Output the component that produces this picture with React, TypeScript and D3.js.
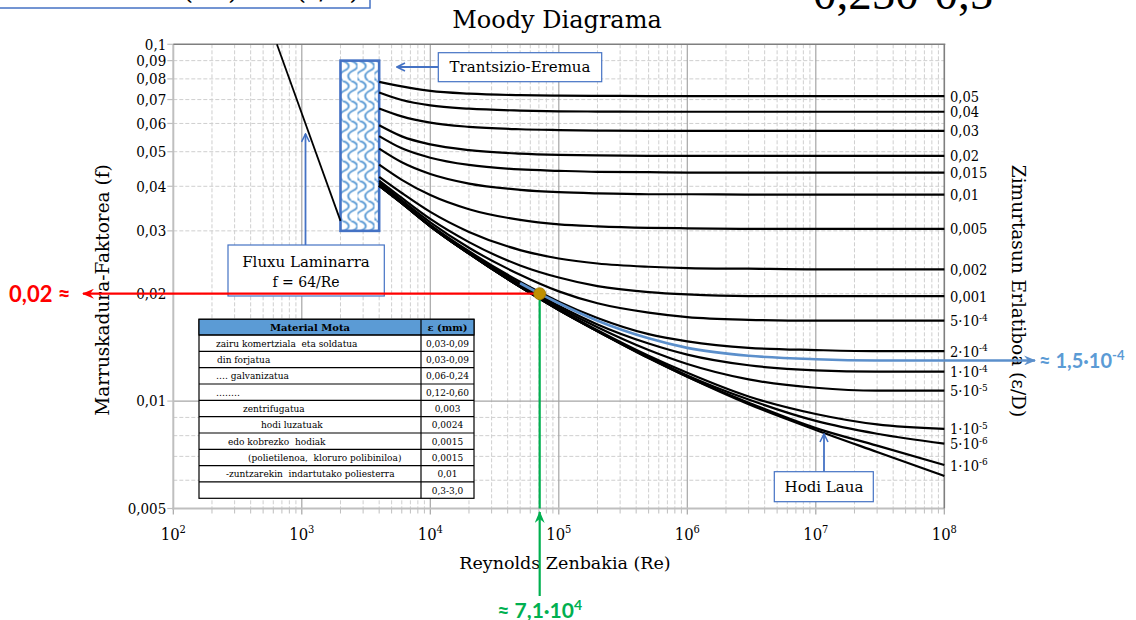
import React from 'react';
import * as d3 from 'd3';

// ---------- data ----------
const RE = [4e3, 6e3, 1e4, 2e4, 5e4, 1e5, 2e5, 5e5, 1e6, 3e6, 1e7, 3e7, 1e8];

const F_0_05 = [0.0785, 0.0762, 0.074, 0.0727, 0.072, 0.0718, 0.0717, 0.0716, 0.0716, 0.0716, 0.0716, 0.0716, 0.0716];
const F_0_04 = [0.0733, 0.0698, 0.0674, 0.066, 0.0652, 0.0649, 0.0648, 0.0647, 0.0647, 0.0647, 0.0647, 0.0647, 0.0647];
const F_0_03 = [0.0661, 0.0628, 0.0603, 0.0587, 0.0578, 0.0575, 0.0573, 0.0572, 0.0572, 0.0572, 0.0572, 0.0572, 0.0572];
const F_0_02 = [0.0593, 0.0552, 0.0524, 0.0505, 0.0494, 0.049, 0.0488, 0.0487, 0.0487, 0.0487, 0.0487, 0.0487, 0.0487];
const F_0_015 = [0.0553, 0.0511, 0.0481, 0.0459, 0.0446, 0.0442, 0.0439, 0.0438, 0.0437, 0.0437, 0.0437, 0.0437, 0.0437];
const F_0_01 = [0.051, 0.0467, 0.0433, 0.0407, 0.0391, 0.0385, 0.0382, 0.038, 0.038, 0.0379, 0.0379, 0.0379, 0.0379];
const F_0_005 = [0.046, 0.0417, 0.0378, 0.0345, 0.0322, 0.0313, 0.0309, 0.0306, 0.0305, 0.0304, 0.0304, 0.0304, 0.0304];
const F_0_002 = [0.0425, 0.0383, 0.0339, 0.0298, 0.0265, 0.0251, 0.0243, 0.0238, 0.0236, 0.0235, 0.0234, 0.0234, 0.0234];
const F_0_001 = [0.0415, 0.0371, 0.0324, 0.0279, 0.024, 0.0222, 0.021, 0.0202, 0.0199, 0.0197, 0.0197, 0.0197, 0.0197];
const F_5e_4 = [0.041, 0.0365, 0.0317, 0.0269, 0.0226, 0.0203, 0.0188, 0.0177, 0.0172, 0.0169, 0.0168, 0.0168, 0.0168];
const F_2e_4 = [0.0405, 0.0361, 0.0312, 0.0263, 0.0216, 0.019, 0.0171, 0.0154, 0.0147, 0.0141, 0.0139, 0.0138, 0.0138];
const F_1e_4 = [0.0402, 0.036, 0.031, 0.0261, 0.0213, 0.0185, 0.0164, 0.0145, 0.0135, 0.0126, 0.0122, 0.0121, 0.0121];
const F_5e_5 = [0.0402, 0.0359, 0.031, 0.026, 0.0211, 0.0183, 0.0161, 0.0139, 0.0127, 0.0115, 0.0109, 0.0107, 0.0107];
const F_1e_5 = [0.0402, 0.0359, 0.0309, 0.0259, 0.0209, 0.0181, 0.0158, 0.0134, 0.012, 0.0103, 0.0092, 0.0086, 0.00836];
const F_5e_6 = [0.0402, 0.0359, 0.0309, 0.0259, 0.0209, 0.018, 0.0157, 0.0133, 0.0118, 0.0101, 0.0088, 0.0081, 0.0076];
const F_1e_6 = [0.0402, 0.0359, 0.0309, 0.0259, 0.0209, 0.018, 0.0157, 0.0132, 0.0117, 0.0099, 0.0084, 0.0075, 0.00662];
const F_SMOOTH = [0.0401, 0.0358, 0.0309, 0.0259, 0.0209, 0.018, 0.0157, 0.0132, 0.0117, 0.0098, 0.0083, 0.0072, 0.00617];

const CURVE_VALUES = [F_0_05, F_0_04, F_0_03, F_0_02, F_0_015, F_0_01, F_0_005, F_0_002, F_0_001, F_5e_4, F_2e_4, F_1e_4, F_5e_5, F_1e_5, F_5e_6, F_1e_6, F_SMOOTH];
// right-side labels: [base, exponent]
const CURVE_LABELS: [string, string][] = [
  ['0,05', ''], ['0,04', ''], ['0,03', ''], ['0,02', ''], ['0,015', ''], ['0,01', ''], ['0,005', ''],
  ['0,002', ''], ['0,001', ''], ['5·10', '-4'], ['2·10', '-4'], ['1·10', '-4'], ['5·10', '-5'],
  ['1·10', '-5'], ['5·10', '-6'], ['1·10', '-6'], ['', ''],
];

// highlighted curve ε/D ≈ 1,5·10^-4
const RE_BLUE = [5e4, 7.1e4, 1e5, 2e5, 5e5, 1e6, 3e6, 1e7, 3e7, 1e8];
const F_BLUE = [0.0214, 0.02, 0.0188, 0.0168, 0.015, 0.0141, 0.0134, 0.0131, 0.013, 0.013];

// laminar f = 64/Re
const RE_LAM = [640, 2000];
const F_LAM = [0.1, 0.032];

// transition zone
const TRANS_RE = [2000, 4000];
const TRANS_F = [0.03, 0.09];

// operating point
const POINT_RE = 7.1e4;
const POINT_F = 0.02;

const Y_TICKS = [0.1, 0.09, 0.08, 0.07, 0.06, 0.05, 0.04, 0.03, 0.02, 0.01, 0.005];
const Y_TICK_LABELS = ['0,1', '0,09', '0,08', '0,07', '0,06', '0,05', '0,04', '0,03', '0,02', '0,01', '0,005'];
const Y_MINOR = [0.006, 0.007, 0.008, 0.009, 0.02, 0.03, 0.04, 0.05, 0.06, 0.07, 0.08, 0.09];
const X_EXPONENTS = [2, 3, 4, 5, 6, 7, 8];

const TABLE_MATERIALS = [
  'zairu komertziala  eta soldatua',
  'din forjatua',
  '‥‥ galvanizatua',
  '‥‥‥‥',
  'zentrifugatua',
  'hodi luzatuak',
  'edo kobrezko  hodiak',
  '(polietilenoa,  kloruro polibiniloa)',
  '-zuntzarekin  indartutako poliesterra',
  '',
];
const TABLE_EPS = ['0,03-0,09', '0,03-0,09', '0,06-0,24', '0,12-0,60', '0,003', '0,0024', '0,0015', '0,0015', '0,01', '0,3-3,0'];
const TABLE_TEXT_X = [216, 217, 216, 216, 243, 261, 228, 248, 226, 216];

// ---------- layout ----------
const W = 1136;
const H = 620;
const X0 = 173.3, X1 = 944.3, Y0 = 508.5, Y1 = 44.3;

const x = d3.scaleLog().domain([1e2, 1e8]).range([X0, X1]);
const y = d3.scaleLog().domain([0.005, 0.1]).range([Y0, Y1]);

const SERIF = 'DejaVu Serif';
const NUMF = "'DejaVu Serif Condensed', 'DejaVu Serif'";
const SANS = 'Lato';
const BLUE_BOX = '#4472C4';
const BLUE_CURVE = '#5B8FCB';

export default function App() {
  const line = d3
    .line<[number, number]>()
    .x((d) => x(d[0]))
    .y((d) => y(d[1]))
    .curve(d3.curveMonotoneX);

  const xMinor: number[] = [];
  for (let e = 2; e < 8; e++) for (let k = 2; k <= 9; k++) xMinor.push(k * Math.pow(10, e));
  const xMajor = X_EXPONENTS.map((e) => Math.pow(10, e));

  const px = x(POINT_RE);
  const py = y(POINT_F);

  const tx0 = x(TRANS_RE[0]), tx1 = x(TRANS_RE[1]);
  const ty0 = y(TRANS_F[1]), ty1 = y(TRANS_F[0]);

  const tblL = 199, tblR = 474, tblSplit = 421, tblTop = 319.3, tblHead = 335, rowH = 16.33;

  const blueEndY = y(F_BLUE[F_BLUE.length - 1]);

  return (
    <svg
      width={W}
      height={H}
      style={{ position: 'absolute', left: 0, top: 0, background: '#fff' }}
      fontFamily={SERIF}
    >
      <defs>
        <pattern id="transPat" patternUnits="userSpaceOnUse" x={tx0} y={ty0} width={17} height={20}>
          <rect width={17} height={20} fill="#fff" />
          <path
            d="M2,0 C10,3 10,7 4,10 C-2,13 -2,17 2,20 M10.5,0 C18.5,3 18.5,7 12.5,10 C6.5,13 6.5,17 10.5,20 M19,0 C27,3 27,7 21,10"
            fill="none"
            stroke="#5B9BD5"
            strokeWidth={1.9}
          />
        </pattern>
        <marker id="arRed" viewBox="0 0 12 10" refX={11} refY={5} markerUnits="userSpaceOnUse" markerWidth={13} markerHeight={10} orient="auto">
          <path d="M0,0 L12,5 L0,10 L4,5 z" fill="#FF0000" />
        </marker>
        <marker id="arGreen" viewBox="0 0 12 10" refX={11} refY={5} markerUnits="userSpaceOnUse" markerWidth={13} markerHeight={10} orient="auto">
          <path d="M0,0 L12,5 L0,10 L4,5 z" fill="#00B050" />
        </marker>
        <marker id="arBlue" viewBox="0 0 12 10" refX={11} refY={5} markerUnits="userSpaceOnUse" markerWidth={13} markerHeight={10} orient="auto">
          <path d="M0,0 L12,5 L0,10 L4,5 z" fill={BLUE_CURVE} />
        </marker>
        <marker id="arBox" viewBox="0 0 10 10" refX={9} refY={5} markerUnits="userSpaceOnUse" markerWidth={10} markerHeight={10} orient="auto">
          <path d="M1,1 L9,5 L1,9" fill="none" stroke={BLUE_BOX} strokeWidth={1.6} />
        </marker>
      </defs>

      {/* cut-off header boxes at top (partly outside the picture, as in the reference) */}
      <rect x={-5} y={-20} width={375} height={28} fill="#fff" stroke={BLUE_BOX} strokeWidth={1.5} />
      <text x={183} y={-1} fontSize={26} fill="#000">(Re)</text>
      <text x={296} y={-1} fontSize={26} fill="#000">(ε/D)</text>
      <text x={813} y={9} fontSize={47} fill="#000" fontFamily="Liberation Serif">0,250-0,5</text>

      {/* title */}
      <text x={557} y={28} fontSize={24} textAnchor="middle" fill="#000">Moody Diagrama</text>

      {/* grid */}
      {xMinor.map((v, i) => (
        <g key={'xm' + i}>
          <line x1={x(v)} x2={x(v)} y1={Y1} y2={Y0} stroke="#CFCFCF" strokeWidth={1} strokeDasharray="4,2" />
          <line x1={x(v)} x2={x(v)} y1={Y0} y2={Y0 + 5} stroke="#BFBFBF" strokeWidth={1} />
        </g>
      ))}
      {Y_MINOR.map((v, i) => (
        <line key={'ym' + i} x1={X0} x2={X1} y1={y(v)} y2={y(v)} stroke="#CFCFCF" strokeWidth={1} strokeDasharray="4,2" />
      ))}
      {xMajor.slice(1, -1).map((v, i) => (
        <line key={'xM' + i} x1={x(v)} x2={x(v)} y1={Y1} y2={Y0} stroke="#A6A6A6" strokeWidth={1.2} />
      ))}
      <line x1={X0} x2={X1} y1={y(0.01)} y2={y(0.01)} stroke="#A6A6A6" strokeWidth={1.2} />
      {xMajor.map((v, i) => (
        <line key={'xt' + i} x1={x(v)} x2={x(v)} y1={Y0} y2={Y0 + 6} stroke="#A6A6A6" strokeWidth={1.2} />
      ))}
      {Y_TICKS.map((v, i) => (
        <line key={'yt' + i} x1={X0 - 6} x2={X0} y1={y(v)} y2={y(v)} stroke="#BFBFBF" strokeWidth={1.2} />
      ))}
      {/* axes and frame */}
      <line x1={X0} x2={X0} y1={Y1} y2={Y0 + 1} stroke="#BFBFBF" strokeWidth={2} />
      <line x1={X0 - 1} x2={X1} y1={Y0} y2={Y0} stroke="#BFBFBF" strokeWidth={2} />
      <line x1={X0} x2={X1 + 1} y1={Y1} y2={Y1} stroke="#7F7F7F" strokeWidth={1.6} />
      <line x1={X1} x2={X1} y1={Y1} y2={Y0} stroke="#7F7F7F" strokeWidth={1.6} />

      {/* tick labels */}
      {Y_TICKS.map((v, i) => (
        <text key={'yl' + i} x={X0 - 7} y={y(v)} dy="0.36em" fontSize={15} textAnchor="end" fill="#000" fontFamily={NUMF}>
          {Y_TICK_LABELS[i]}
        </text>
      ))}
      {xMajor.map((v, i) => (
        <text key={'xl' + i} x={x(v)} y={540} fontSize={16.5} textAnchor="middle" fill="#000" fontFamily={NUMF}>
          10<tspan fontSize={11} dy={-7}>{X_EXPONENTS[i]}</tspan>
        </text>
      ))}

      {/* axis titles */}
      <text x={565} y={569} fontSize={17.5} textAnchor="middle" fill="#000">Reynolds Zenbakia (Re)</text>
      <text transform={`translate(109,${290}) rotate(-90)`} fontSize={18.5} textAnchor="middle" fill="#000">
        Marruskadura-Faktorea (f)
      </text>
      <text transform={`translate(1012,${291}) rotate(90)`} fontSize={18.5} textAnchor="middle" fill="#000">
        Zimurtasun Erlatiboa (ε/D)
      </text>

      {/* table */}
      <g>
        <rect x={tblL} y={tblTop} width={tblR - tblL} height={tblHead + rowH * 10 - tblTop} fill="#fff" stroke="#000" strokeWidth={1.2} />
        <rect x={tblL} y={tblTop} width={tblR - tblL} height={tblHead - tblTop} fill="#5B9BD5" stroke="#000" strokeWidth={1.2} />
        <line x1={tblSplit} x2={tblSplit} y1={tblTop} y2={tblHead + rowH * 10} stroke="#000" strokeWidth={1.2} />
        {TABLE_EPS.map((_, i) => (
          <line key={'tr' + i} x1={tblL} x2={tblR} y1={tblHead + rowH * i} y2={tblHead + rowH * i} stroke="#000" strokeWidth={1.2} />
        ))}
        <text x={(tblL + tblSplit) / 2} y={tblTop + 11.5} fontSize={10} fontWeight="bold" textAnchor="middle">Material Mota</text>
        <text x={(tblSplit + tblR) / 2} y={tblTop + 11.5} fontSize={10} fontWeight="bold" textAnchor="middle">ε (mm)</text>
        {TABLE_MATERIALS.map((t, i) => (
          <text key={'tm' + i} x={TABLE_TEXT_X[i]} y={tblHead + rowH * i + 11.8} fontSize={10} fill="#000" xmlSpace="preserve" fontFamily={NUMF}>
            {t}
          </text>
        ))}
        {TABLE_EPS.map((t, i) => (
          <text key={'te' + i} x={(tblSplit + tblR) / 2} y={tblHead + rowH * i + 11.8} fontSize={10} textAnchor="middle" fill="#000" fontFamily={NUMF}>
            {t}
          </text>
        ))}
      </g>

      {/* transition zone */}
      <rect x={tx0} y={ty0} width={tx1 - tx0} height={ty1 - ty0} fill="url(#transPat)" stroke={BLUE_BOX} strokeWidth={2.6} />

      {/* laminar line */}
      <path d={line(RE_LAM.map((r, i) => [r, F_LAM[i]]) as [number, number][]) || ''} fill="none" stroke="#000" strokeWidth={1.8} />

      {/* turbulent curves */}
      {CURVE_VALUES.map((fs, ci) => (
        <path
          key={'c' + ci}
          d={line(RE.map((r, i) => [r, fs[i]]) as [number, number][]) || ''}
          fill="none"
          stroke="#000"
          strokeWidth={2.2}
        />
      ))}

      {/* highlighted curve */}
      <path d={line(RE_BLUE.map((r, i) => [r, F_BLUE[i]]) as [number, number][]) || ''} fill="none" stroke={BLUE_CURVE} strokeWidth={2.6} />
      <line x1={X1} x2={1035} y1={blueEndY} y2={blueEndY} stroke={BLUE_CURVE} strokeWidth={2.6} markerEnd="url(#arBlue)" />

      {/* right labels */}
      {CURVE_LABELS.map(([b, e], i) =>
        b ? (
          <text key={'rl' + i} x={950} y={y(CURVE_VALUES[i][CURVE_VALUES[i].length - 1])} dy="0.38em" fontSize={14.5} fill="#000" fontFamily={NUMF}>
            {b}
            {e ? <tspan fontSize={10} dy={-5.5}>{e}</tspan> : null}
          </text>
        ) : null
      )}

      {/* annotation boxes */}
      <line x1={438} x2={397} y1={67} y2={67} stroke={BLUE_BOX} strokeWidth={1.8} markerEnd="url(#arBox)" />
      <rect x={438.3} y={52.7} width={163.4} height={29} fill="#fff" stroke={BLUE_BOX} strokeWidth={1.2} />
      <text x={520} y={72} fontSize={15} textAnchor="middle" fill="#000">Trantsizio-Eremua</text>

      <line x1={305.5} x2={305.5} y1={245} y2={134} stroke={BLUE_BOX} strokeWidth={1.8} markerEnd="url(#arBox)" />
      <rect x={228} y={245} width={156.3} height={51} fill="#fff" stroke={BLUE_BOX} strokeWidth={1.2} />
      <text x={306} y={267} fontSize={15} textAnchor="middle" fill="#000">Fluxu Laminarra</text>
      <text x={306} y={287} fontSize={14} textAnchor="middle" fill="#000">f = 64/Re</text>

      <line x1={824} x2={824} y1={472} y2={434} stroke={BLUE_BOX} strokeWidth={1.8} markerEnd="url(#arBox)" />
      <rect x={774.3} y={471.7} width={99} height={30} fill="#fff" stroke={BLUE_BOX} strokeWidth={1.2} />
      <text x={824} y={492} fontSize={15} textAnchor="middle" fill="#000">Hodi Laua</text>

      {/* reading lines */}
      <line x1={px} x2={83} y1={py} y2={py} stroke="#FF0000" strokeWidth={2.2} markerEnd="url(#arRed)" />
      <line x1={px} x2={px} y1={py} y2={Y0} stroke="#00B050" strokeWidth={2.2} />
      <line x1={px} x2={px} y1={596} y2={512} stroke="#00B050" strokeWidth={2.2} markerEnd="url(#arGreen)" />
      <circle cx={px} cy={py} r={6} fill="#C09000" stroke="#A07800" strokeWidth={0.8} />

      <text x={9} y={py} dy="0.36em" fontSize={22} fontWeight="bold" fill="#FF0000" fontFamily={SANS}>0,02 ≈</text>
      <text x={px} y={618} fontSize={21} fontWeight="bold" fill="#00B050" fontFamily={SANS} textAnchor="middle">
        ≈ 7,1·10<tspan fontSize={14} dy={-8}>4</tspan>
      </text>
      <text x={1039} y={blueEndY} dy="0.36em" fontSize={20} fontWeight="bold" fill="#5B9BD5" fontFamily={SANS}>
        ≈ 1,5·10<tspan fontSize={13} dy={-8}>-4</tspan>
      </text>
    </svg>
  );
}
